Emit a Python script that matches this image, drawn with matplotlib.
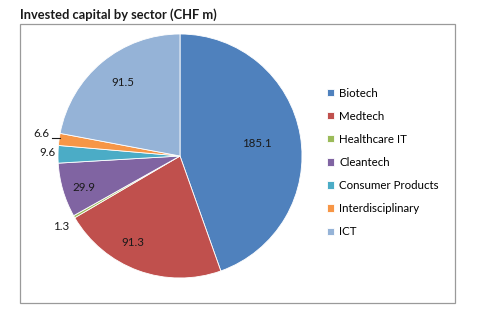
import matplotlib
matplotlib.use("Agg")
import matplotlib.pyplot as plt
from matplotlib.patches import Rectangle
import numpy as np

sectors = ["Biotech", "Medtech", "Healthcare IT", "Cleantech",
           "Consumer Products", "Interdisciplinary", "ICT"]
values = [185.1, 91.3, 1.3, 29.9, 9.6, 6.6, 91.5]
labels = ["185.1", "91.3", "1.3", "29.9", "9.6", "6.6", "91.5"]
colors = ["#4F81BD", "#C0504D", "#9BBB59", "#8064A2", "#4BACC6", "#F79646", "#95B3D7"]

label_r = [0.64, 0.81, 1.13, 0.83, 1.09, 1.15, 0.76]
label_shift = [-0.9, -8.3, 1, 1.7, -0.5, -1.2, -2]

plt.rcParams['font.family'] = ['Lato', 'DejaVu Sans']

fig = plt.figure(figsize=(4.8, 3.22), dpi=100)
W, H = 480, 322

fig.patches.append(Rectangle((20 / W, (H - 303) / H), 435 / W, 279 / H,
                             transform=fig.transFigure, fill=False,
                             edgecolor="#9a9a9a", linewidth=0.9))
fig.text(20 / W, 1 - 15 / H, "Invested capital by sector (CHF m)",
         fontsize=9.3, fontweight="bold", va="center", ha="left", color="#1a1a1a")

ax = fig.add_axes([58 / W, (H - 278) / H, 244 / W, 244 / H])
wedges, _ = ax.pie(values, colors=colors, startangle=90, counterclock=False,
                   wedgeprops=dict(linewidth=0.6, edgecolor="white"))
ax.set_xlim(-1, 1)
ax.set_ylim(-1, 1)
ax.set_aspect("equal")

label_pos = []
for w, lab, r, s in zip(wedges, labels, label_r, label_shift):
    mid = (w.theta1 + w.theta2) / 2 + s
    x, y = r * np.cos(np.radians(mid)), r * np.sin(np.radians(mid))
    label_pos.append((x, y))
    ax.text(x, y, lab, ha="center", va="center", fontsize=8.3, color="#1a1a1a")

# leader line for the small Interdisciplinary slice
lx, ly = label_pos[5]
w = wedges[5]
mid = np.radians((w.theta1 + w.theta2) / 2)
ex = 0.995 * np.cos(mid)
ax.plot([lx + 0.085, ex], [ly - 0.03, ly - 0.03],
        color="#1a1a1a", lw=0.8, clip_on=False)

fig.legend(wedges, sectors, loc="upper left", bbox_to_anchor=(322 / W, 1 - 83 / H),
           frameon=False, fontsize=8.3, handlelength=0.6, handleheight=0.6,
           handletextpad=0.5, labelspacing=1.05, borderaxespad=0)

fig.savefig("out.png", dpi=100)
